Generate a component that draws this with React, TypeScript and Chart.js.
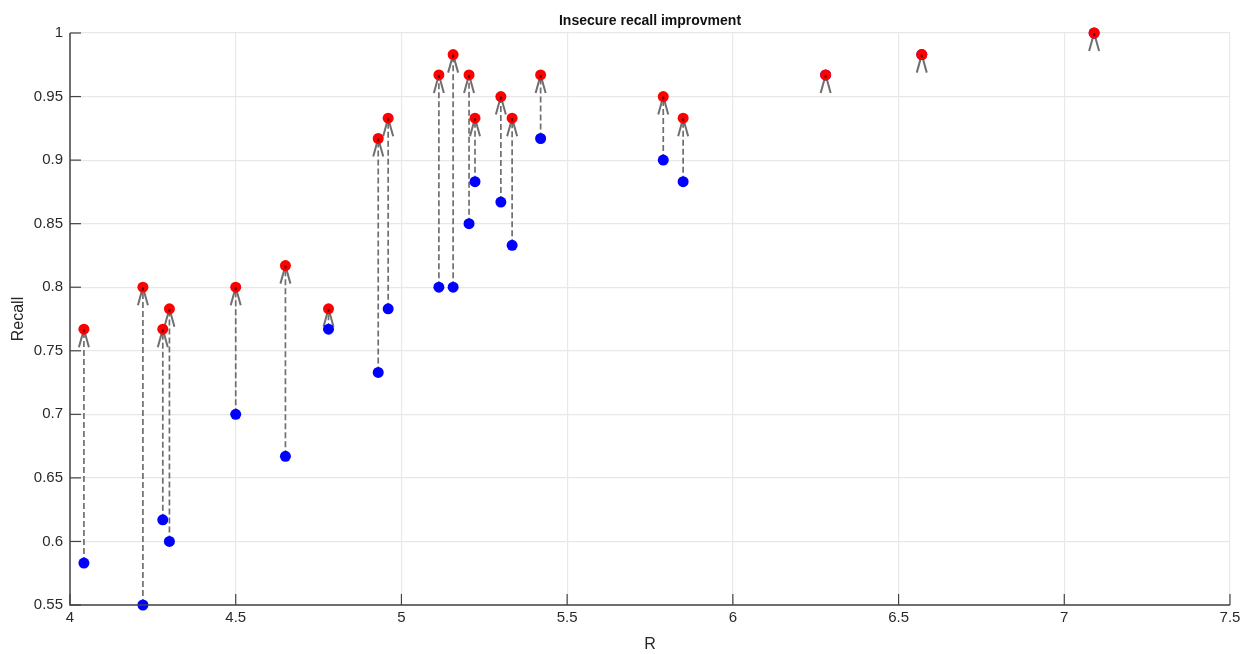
import React, { useEffect, useRef } from "react";
import { Chart, registerables } from "chart.js";

Chart.register(...registerables);

const rValues = [4.042, 4.22, 4.28, 4.3, 4.5, 4.65, 4.78, 4.93, 4.96, 5.113, 5.156, 5.204, 5.222, 5.3, 5.334, 5.42, 5.79, 5.85, 6.28, 6.57, 7.09];
const recallBefore = [0.583, 0.55, 0.617, 0.6, 0.7, 0.667, 0.767, 0.733, 0.783, 0.8, 0.8, 0.85, 0.883, 0.867, 0.833, 0.917, 0.9, 0.883, 0.967, 0.983, 1.0];
const recallAfter = [0.767, 0.8, 0.767, 0.783, 0.8, 0.817, 0.783, 0.917, 0.933, 0.967, 0.983, 0.967, 0.933, 0.95, 0.933, 0.967, 0.95, 0.933, 0.967, 0.983, 1.0];
const xTicks = [4, 4.5, 5, 5.5, 6, 6.5, 7, 7.5];
const yTicks = [0.55, 0.6, 0.65, 0.7, 0.75, 0.8, 0.85, 0.9, 0.95, 1];
const titleText = "Insecure recall improvment";
const xLabel = "R";
const yLabel = "Recall";

const FONT = "'Liberation Sans', Arial, sans-serif";

const overlay = {
  id: "overlay",
  beforeDatasetsDraw(chart: any) {
    const ctx = chart.ctx;
    const xs = chart.scales.x;
    const ys = chart.scales.y;
    ctx.save();
    for (let i = 0; i < rValues.length; i++) {
      const px = xs.getPixelForValue(rValues[i]);
      const y0 = ys.getPixelForValue(recallBefore[i]);
      const y1 = ys.getPixelForValue(recallAfter[i]);
      ctx.strokeStyle = "rgba(95,95,95,0.9)";
      ctx.lineWidth = 1.7;
      if (y0 - y1 > 2) {
        ctx.setLineDash([6, 3]);
        ctx.beginPath();
        ctx.moveTo(px, y0);
        ctx.lineTo(px, y1);
        ctx.stroke();
      }
      ctx.setLineDash([]);
      ctx.lineWidth = 2;
      ctx.beginPath();
      ctx.moveTo(px - 5, y1 + 18);
      ctx.lineTo(px, y1);
      ctx.lineTo(px + 5, y1 + 18);
      ctx.stroke();
    }
    ctx.restore();
  },
  afterDraw(chart: any) {
    const ctx = chart.ctx;
    const xs = chart.scales.x;
    const ys = chart.scales.y;
    const a = chart.chartArea;
    ctx.save();
    // arrow tips visible over red markers
    ctx.fillStyle = "rgba(60,0,0,0.8)";
    for (let i = 0; i < rValues.length; i++) {
      const px = xs.getPixelForValue(rValues[i]);
      const y1 = ys.getPixelForValue(recallAfter[i]);
      ctx.fillRect(px - 1, y1, 2, 3);
    }
    ctx.strokeStyle = "#444444";
    ctx.lineWidth = 1.5;
    ctx.beginPath();
    ctx.moveTo(a.left, a.top);
    ctx.lineTo(a.left, a.bottom);
    ctx.lineTo(a.right, a.bottom);
    ctx.stroke();
    ctx.lineWidth = 1.2;
    for (const t of xTicks) {
      const p = xs.getPixelForValue(t);
      ctx.beginPath();
      ctx.moveTo(p, a.bottom);
      ctx.lineTo(p, a.bottom - 11);
      ctx.stroke();
    }
    for (const t of yTicks) {
      const p = ys.getPixelForValue(t);
      ctx.beginPath();
      ctx.moveTo(a.left, p);
      ctx.lineTo(a.left + 11, p);
      ctx.stroke();
    }
    ctx.fillStyle = "#111111";
    ctx.font = `bold 14px ${FONT}`;
    ctx.textAlign = "center";
    ctx.textBaseline = "middle";
    ctx.fillText(titleText, (a.left + a.right) / 2, 21);
    ctx.font = `16px ${FONT}`;
    ctx.fillStyle = "#262626";
    ctx.fillText(xLabel, (a.left + a.right) / 2, 645);
    ctx.translate(19, (a.top + a.bottom) / 2);
    ctx.rotate(-Math.PI / 2);
    ctx.fillText(yLabel, 0, 0);
    ctx.restore();
  },
};

export default function App() {
  const ref = useRef<HTMLCanvasElement>(null);
  useEffect(() => {
    document.body.style.margin = "0";
    const canvas = ref.current!;
    const chart = new Chart(canvas, {
      type: "scatter",
      data: {
        datasets: [
          {
            label: "after",
            data: rValues.map((x, i) => ({ x, y: recallAfter[i] })),
            backgroundColor: "#ff0000",
            borderColor: "#ff0000",
            pointRadius: 5.5,
            borderWidth: 0,
            clip: false,
          },
          {
            label: "before",
            data: rValues.map((x, i) => ({ x, y: recallBefore[i] })),
            backgroundColor: "#0000ff",
            borderColor: "#0000ff",
            pointRadius: 5.5,
            borderWidth: 0,
            clip: false,
          },
        ],
      },
      options: {
        animation: false,
        responsive: false,
        maintainAspectRatio: false,
        layout: { padding: { left: 0, right: 19, top: 33, bottom: 0 } },
        plugins: {
          legend: { display: false },
          title: { display: false },
          tooltip: { enabled: false },
        },
        scales: {
          x: {
            type: "linear",
            min: 4,
            max: 7.5,
            afterBuildTicks: (s: any) => {
              s.ticks = xTicks.map((v) => ({ value: v }));
            },
            afterFit: (s: any) => {
              s.height = 49;
            },
            grid: { color: "#e8e8e8", lineWidth: 1.2, drawTicks: false },
            border: { display: false },
            ticks: {
              padding: 4,
              color: "#2a2a2a",
              font: { family: FONT, size: 15 },
              callback: (v: any) => String(v),
            },
          },
          y: {
            type: "linear",
            min: 0.55,
            max: 1,
            afterBuildTicks: (s: any) => {
              s.ticks = yTicks.map((v) => ({ value: v }));
            },
            afterFit: (s: any) => {
              s.width = 70;
            },
            grid: { color: "#e8e8e8", lineWidth: 1.2, drawTicks: false },
            border: { display: false },
            ticks: {
              padding: 7,
              color: "#2a2a2a",
              font: { family: FONT, size: 15 },
              callback: (v: any) => String(Number(v.toFixed(2))),
            },
          },
        },
      },
      plugins: [overlay],
    });
    return () => chart.destroy();
  }, []);
  return <canvas ref={ref} width={1249} height={654} style={{ display: "block" }} />;
}
